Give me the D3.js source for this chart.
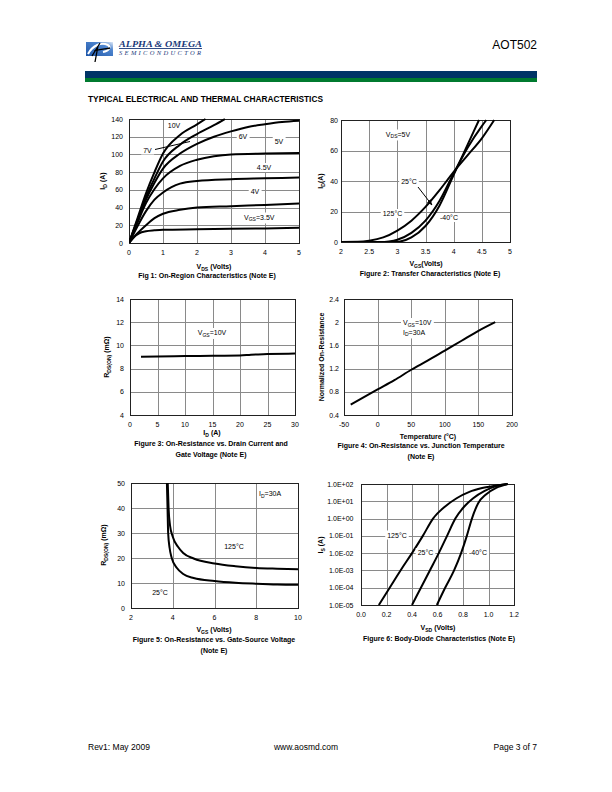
<!DOCTYPE html>
<html><head><meta charset="utf-8">
<script src="https://cdn.jsdelivr.net/npm/d3@7"></script>
<style>
html,body{margin:0;padding:0;background:#fff;}
svg{display:block;font-family:"Liberation Sans",Arial,sans-serif;}
</style></head>
<body>
<svg id="page" width="612" height="792"></svg>
<script>
// ---------- DATA ----------
// Fig 1: On-region characteristics, [VDS, ID]
const fig1_vgs10 = [[0,0],[0.25,28],[0.5,56],[0.75,80],[1,101],[1.5,122],[2,134],[2.25,140]];
const fig1_vgs7  = [[0,0],[0.25,26],[0.5,52],[0.75,73],[1,92],[1.5,111],[2,123],[2.5,133],[2.82,140]];
const fig1_vgs6  = [[0,0],[0.25,25],[0.5,49],[0.75,68],[1,84],[1.5,101],[2,112],[2.5,120],[3,126],[3.5,131],[4,134],[4.5,136.5],[5,138]];
const fig1_vgs5  = [[0,0],[0.25,23],[0.5,45],[0.75,61],[1,73],[1.5,87],[2,94],[2.5,98],[3,100],[4,101],[5,101.5]];
const fig1_vgs45 = [[0,0],[0.25,19],[0.5,36],[0.75,49],[1,57],[1.25,63],[1.5,67],[2,70],[3,72],[4,73],[5,74]];
const fig1_vgs4  = [[0,0],[0.25,11],[0.5,20],[0.75,28],[1,33],[1.5,37.5],[2,40],[3,41.5],[4,43],[5,44.5]];
const fig1_vgs35 = [[0,0],[0.1,5],[0.2,8.5],[0.3,11],[0.5,13.2],[0.75,14.3],[1,15],[2,15.5],[3,16],[4,16.5],[5,17.2]];
const fig1_xticks = [0,1,2,3,4,5];
const fig1_yticks = [0,20,40,60,80,100,120,140];

// Fig 2: Transfer characteristics, [VGS, ID]
const fig2_t125 = [[2,0],[2.3,0.1],[2.5,0.8],[2.75,3],[3,7.5],[3.25,14],[3.5,23],[3.75,34],[4,46],[4.25,57],[4.5,68],[4.72,80]];
const fig2_t25  = [[2,0],[2.7,0],[2.85,0.4],[3,1.5],[3.25,6],[3.5,14],[3.75,27],[4,45],[4.25,62],[4.5,76],[4.58,80]];
const fig2_tm40 = [[2,0],[2.9,0],[3.05,0.4],[3.25,3],[3.5,10.5],[3.75,24],[4,44],[4.25,64],[4.45,80]];
const fig2_xticks = [2,2.5,3,3.5,4,4.5,5];
const fig2_yticks = [0,20,40,60,80];

// Fig 3: RDS(ON) vs ID, [ID, mOhm]
const fig3_vgs10 = [[2,9.02],[5,9.05],[10,9.08],[15,9.1],[20,9.12],[22,9.2],[25,9.25],[30,9.3]];
const fig3_xticks = [0,5,10,15,20,25,30];
const fig3_yticks = [4,6,8,10,12,14];

// Fig 4: Normalized on-resistance vs temperature, [degC, norm]
const fig4_norm = [[-40,0.58],[0,0.84],[25,1.0],[50,1.18],[75,1.34],[100,1.51],[125,1.68],[150,1.85],[175,2.0]];
const fig4_xticks = [-50,0,50,100,150,200];
const fig4_yticks = [0.4,0.8,1.2,1.6,2.0,2.4];

// Fig 5: RDS(ON) vs VGS, [VGS, mOhm]
const fig5_t25  = [[3.72,50],[3.75,40],[3.78,30],[3.85,24],[3.95,20],[4.2,16],[4.5,13.6],[5,12],[6,10.8],[7,10.1],[8,9.7],[9,9.4],[10,9.3]];
const fig5_t125 = [[3.76,50],[3.8,40],[3.87,33],[4,28.5],[4.25,24.5],[4.5,22],[5,19.8],[6,17.8],[7,16.7],[8,16],[9,15.7],[10,15.5]];
const fig5_xticks = [2,4,6,8,10];
const fig5_yticks = [0,10,20,30,40,50];

// Fig 6: Body diode, [VSD, IS]
const fig6_t125 = [[0.14,1e-5],[0.225,1e-4],[0.31,1e-3],[0.4,1e-2],[0.485,1e-1],[0.565,1],[0.66,5],[0.75,15],[0.85,35],[0.95,58],[1.05,80],[1.15,100]];
const fig6_t25  = [[0.4,1e-5],[0.47,1e-4],[0.54,1e-3],[0.61,1e-2],[0.675,1e-1],[0.74,1],[0.81,5],[0.88,15],[0.97,40],[1.06,75],[1.15,100]];
const fig6_tm40 = [[0.595,1e-5],[0.66,1e-4],[0.73,1e-3],[0.785,1e-2],[0.83,1e-1],[0.87,1],[0.92,8],[0.98,25],[1.06,60],[1.15,100]];
const fig6_xticks = [0,0.2,0.4,0.6,0.8,1.0,1.2];
const fig6_yticks = [1e-5,1e-4,1e-3,1e-2,1e-1,1e0,1e1,1e2];

// ---------- DRAWING ----------
const svg = d3.select("#page");
const FS = 7;

function rich(t, parts, fs){
  let shift = 0;
  parts.forEach(p=>{
    if (typeof p === "string"){ t.append("tspan").attr("dy", -shift).text(p); shift = 0; }
    else { t.append("tspan").attr("dy", fs*0.28 - shift).attr("font-size", fs*0.72).text(p.sub); shift = fs*0.28; }
  });
  return t;
}
function bgLabel(g, x, y, parts, anchor){
  const t = g.append("text").attr("x", x).attr("y", y).attr("font-size", FS)
    .attr("text-anchor", anchor||"start");
  rich(t, parts, FS);
  const b = t.node().getBBox();
  g.insert("rect", function(){ return t.node(); })
    .attr("x", b.x-2).attr("y", b.y-1).attr("width", b.width+4).attr("height", b.height+2)
    .attr("fill", "#fff");
  return t;
}
let clipId = 0;
function chart(c){
  const g = svg.append("g");
  const x = d3.scaleLinear().domain(c.xd).range([c.x0, c.x1]);
  const y = (c.log ? d3.scaleLog() : d3.scaleLinear()).domain(c.yd).range([c.y1, c.y0]);
  const grid = g.append("g").attr("stroke", "#8a8a8a").attr("stroke-width", 1);
  grid.selectAll(".gx").data(c.xt).join("line")
    .attr("x1", d=>Math.round(x(d))+0.5).attr("x2", d=>Math.round(x(d))+0.5)
    .attr("y1", c.y0).attr("y2", c.y1);
  grid.selectAll(".gy").data(c.yt).join("line")
    .attr("y1", d=>Math.round(y(d))+0.5).attr("y2", d=>Math.round(y(d))+0.5)
    .attr("x1", c.x0).attr("x2", c.x1);
  g.append("rect").attr("x", c.x0+0.5).attr("y", c.y0+0.5)
    .attr("width", c.x1-c.x0).attr("height", c.y1-c.y0)
    .attr("fill", "none").attr("stroke", "#222").attr("stroke-width", 1);
  g.append("g").selectAll("text").data(c.xt).join("text")
    .attr("x", d=>x(d)).attr("y", c.y1+12).attr("text-anchor", "middle")
    .attr("font-size", FS).text(c.xf);
  g.append("g").selectAll("text").data(c.yt).join("text")
    .attr("x", c.x0-(c.ylabGap||6)).attr("y", d=>y(d)+2.5).attr("text-anchor", "end")
    .attr("font-size", FS).text(c.yf);
  const id = "clip" + (clipId++);
  g.append("clipPath").attr("id", id).append("rect")
    .attr("x", c.x0).attr("y", c.y0-1).attr("width", c.x1-c.x0).attr("height", c.y1-c.y0+1);
  const line = d3.line().x(d=>x(d[0])).y(d=>y(d[1])).curve(d3.curveMonotoneX);
  const lines = g.append("g").attr("clip-path", `url(#${id})`);
  c.series.forEach(s=>{
    lines.append("path").attr("d", line(s)).attr("fill", "none")
      .attr("stroke", "#000").attr("stroke-width", 2).attr("stroke-linejoin", "round");
  });
  const xt = g.append("text").attr("x", c.xtx).attr("y", c.xty).attr("text-anchor", "middle")
    .attr("font-size", FS).attr("font-weight", "bold");
  rich(xt, c.xtitle, FS);
  const yt = g.append("text").attr("transform", `translate(${c.ytx},${c.yty}) rotate(-90)`)
    .attr("text-anchor", "middle").attr("font-size", FS).attr("font-weight", "bold");
  rich(yt, c.ytitle, FS);
  c.caption.forEach((line, i)=>{
    g.append("text").attr("x", c.capx).attr("y", c.capy + i*10.5).attr("text-anchor", "middle")
      .attr("font-size", FS).attr("font-weight", "bold").text(line);
  });
  return {g, x, y};
}
const intf = d=>String(d);

// Fig 1
const f1 = chart({x0:129,x1:299,y0:119,y1:243,xd:[0,5],yd:[0,140],xt:fig1_xticks,yt:fig1_yticks,xf:intf,yf:intf,
  series:[fig1_vgs10,fig1_vgs7,fig1_vgs6,fig1_vgs5,fig1_vgs45,fig1_vgs4,fig1_vgs35],
  xtitle:["V",{sub:"DS"}," (Volts)"], xtx:214, xty:269,
  ytitle:["I",{sub:"D"}," (A)"], ytx:105, yty:181,
  caption:["Fig 1: On-Region Characteristics (Note E)"], capx:207, capy:278});
bgLabel(f1.g, 174, 127.5, ["10V"], "middle");
bgLabel(f1.g, 243, 139, ["6V"], "middle");
bgLabel(f1.g, 279, 143.5, ["5V"], "middle");
f1.g.append("line").attr("x1",155).attr("y1",149.5).attr("x2",190).attr("y2",141.5).attr("stroke","#000").attr("stroke-width",1);
bgLabel(f1.g, 147.5, 152.5, ["7V"], "middle");
bgLabel(f1.g, 264, 170, ["4.5V"], "middle");
bgLabel(f1.g, 255, 194, ["4V"], "middle");
bgLabel(f1.g, 244, 219.5, ["V",{sub:"GS"},"=3.5V"], "start");

// Fig 2
const f2 = chart({x0:341,x1:510,y0:120,y1:242,xd:[2,5],yd:[0,80],xt:fig2_xticks,yt:fig2_yticks,xf:intf,yf:intf,ylabGap:3,
  series:[fig2_t125,fig2_t25,fig2_tm40],
  xtitle:["V",{sub:"GS"},"(Volts)"], xtx:426, xty:266,
  ytitle:["I",{sub:"D"},"(A)"], ytx:323, yty:181,
  caption:["Figure 2: Transfer Characteristics (Note E)"], capx:430, capy:276});
bgLabel(f2.g, 398, 136.5, ["V",{sub:"DS"},"=5V"], "middle");
bgLabel(f2.g, 409, 183.5, ["25°C"], "middle");
f2.g.append("defs").append("marker").attr("id","arr").attr("viewBox","0 0 10 10").attr("refX",9).attr("refY",5)
  .attr("markerWidth",6).attr("markerHeight",6).attr("orient","auto")
  .append("path").attr("d","M0,1L10,5L0,9Z").attr("fill","#000");
f2.g.append("line").attr("x1",418).attr("y1",187).attr("x2",432).attr("y2",205)
  .attr("stroke","#000").attr("stroke-width",1).attr("marker-end","url(#arr)");
bgLabel(f2.g, 392.5, 216, ["125°C"], "middle");
bgLabel(f2.g, 449, 220, ["-40°C"], "middle");

// Fig 3
const f3 = chart({x0:130,x1:295,y0:299,y1:415,xd:[0,30],yd:[4,14],xt:fig3_xticks,yt:fig3_yticks,xf:intf,yf:intf,ylabGap:6,
  series:[fig3_vgs10],
  xtitle:["I",{sub:"D"}," (A)"], xtx:212, xty:435,
  ytitle:["R",{sub:"DS(ON)"}," (mΩ)"], ytx:109, yty:357,
  caption:["Figure 3: On-Resistance vs. Drain Current and","Gate Voltage (Note E)"], capx:211, capy:446});
bgLabel(f3.g, 212, 335, ["V",{sub:"GS"},"=10V"], "middle");

// Fig 4
const f4 = chart({x0:344,x1:512,y0:299,y1:415,xd:[-50,200],yd:[0.4,2.4],xt:fig4_xticks,yt:fig4_yticks,
  xf:intf, yf:d=>String(+d.toFixed(1)), ylabGap:5,
  series:[fig4_norm],
  xtitle:["Temperature (°C)"], xtx:428, xty:439,
  ytitle:["Normalized On-Resistance"], ytx:324, yty:357,
  caption:["Figure 4: On-Resistance vs. Junction Temperature","(Note E)"], capx:421, capy:448});
bgLabel(f4.g, 403, 325, ["V",{sub:"GS"},"=10V"], "start");
bgLabel(f4.g, 403, 334.5, ["I",{sub:"D"},"=30A"], "start");

// Fig 5
const f5 = chart({x0:131,x1:298,y0:483,y1:608,xd:[2,10],yd:[0,50],xt:fig5_xticks,yt:fig5_yticks,xf:intf,yf:intf,ylabGap:6,
  series:[fig5_t25,fig5_t125],
  xtitle:["V",{sub:"GS"}," (Volts)"], xtx:214, xty:632,
  ytitle:["R",{sub:"DS(ON)"}," (mΩ)"], ytx:106, yty:545,
  caption:["Figure 5: On-Resistance vs. Gate-Source Voltage","(Note E)"], capx:214, capy:642});
bgLabel(f5.g, 259, 496, ["I",{sub:"D"},"=30A"], "start");
bgLabel(f5.g, 234, 548.5, ["125°C"], "middle");
bgLabel(f5.g, 160, 594.5, ["25°C"], "middle");

// Fig 6
const sup = e => "1.0E" + (e<0?"-":"+") + String(Math.abs(e)).padStart(2,"0");
const f6 = chart({x0:361,x1:514,y0:484,y1:605,xd:[0,1.2],yd:[1e-5,1e2],log:true,xt:fig6_xticks,yt:fig6_yticks,
  xf:d=>d.toFixed(1), yf:d=>sup(Math.round(Math.log10(d))), ylabGap:7.5,
  series:[fig6_t125,fig6_t25,fig6_tm40],
  xtitle:["V",{sub:"SD"}," (Volts)"], xtx:438, xty:630,
  ytitle:["I",{sub:"S"}," (A)"], ytx:323, yty:545,
  caption:["Figure 6: Body-Diode Characteristics (Note E)"], capx:439, capy:641});
bgLabel(f6.g, 397, 537.5, ["125°C"], "middle");
bgLabel(f6.g, 425.5, 555, ["25°C"], "middle");
bgLabel(f6.g, 478, 555, ["-40°C"], "middle");

// ---------- HEADER / FOOTER ----------
const hd = svg.append("g");
const grad = hd.append("defs").append("linearGradient").attr("id","lg").attr("x1","0").attr("y1","1").attr("x2","1").attr("y2","0");
grad.append("stop").attr("offset","0").attr("stop-color","#1d55a8");
grad.append("stop").attr("offset","0.7").attr("stop-color","#4f86cf");
grad.append("stop").attr("offset","1").attr("stop-color","#dfe9f7");
hd.append("rect").attr("x",86).attr("y",42).attr("width",27).attr("height",14).attr("fill","url(#lg)");
hd.append("path").attr("d","M88,54 C93,45 101,42 108,45 C111,47 109,51 103,52").attr("fill","none").attr("stroke","#fff").attr("stroke-width",2);
hd.append("path").attr("d","M92,56 L100,43 M98,46 L95,62 M94,51 C100,49 106,49 110,48").attr("fill","none").attr("stroke","#000").attr("stroke-width",1.3);
hd.append("text").attr("x",119).attr("y",47).attr("font-family","'Liberation Serif',serif").attr("font-style","italic")
  .attr("font-weight","bold").attr("font-size",9).attr("fill","#1c3a7a").attr("text-decoration","underline")
  .attr("textLength",83).attr("lengthAdjust","spacingAndGlyphs").text("ALPHA & OMEGA");
hd.append("text").attr("x",119).attr("y",54.5).attr("font-family","'Liberation Serif',serif").attr("font-style","italic")
  .attr("font-size",6.5).attr("fill","#1c3a7a").attr("textLength",82).attr("lengthAdjust","spacing").text("SEMICONDUCTOR");
hd.append("text").attr("x",537).attr("y",49).attr("text-anchor","end").attr("font-size",12).text("AOT502");
hd.append("rect").attr("x",85).attr("y",71).attr("width",452).attr("height",7).attr("fill","#003466");
hd.append("rect").attr("x",85).attr("y",78).attr("width",452).attr("height",4).attr("fill","#007a2f");
hd.append("text").attr("x",88).attr("y",102).attr("font-size",8.2).attr("font-weight","bold")
  .attr("textLength",235).attr("lengthAdjust","spacingAndGlyphs").text("TYPICAL ELECTRICAL AND THERMAL CHARACTERISTICS");
svg.append("text").attr("x",88).attr("y",750).attr("font-size",8.5).text("Rev1: May 2009");
svg.append("text").attr("x",306).attr("y",750).attr("text-anchor","middle").attr("font-size",8.5).text("www.aosmd.com");
svg.append("text").attr("x",537).attr("y",750).attr("text-anchor","end").attr("font-size",8.5).text("Page 3 of 7");
</script>
</body></html>
